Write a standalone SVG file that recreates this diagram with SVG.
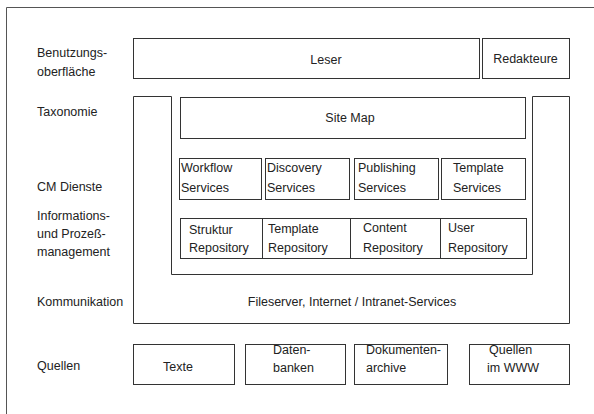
<svg xmlns="http://www.w3.org/2000/svg" width="594" height="414" viewBox="0 0 594 414">
<style>
.b{fill:#fff;stroke:#333;stroke-width:1}
.f{fill:none;stroke:#555;stroke-width:1}
text{font-family:"Liberation Sans",Arial,sans-serif;font-size:12.5px;fill:#222}
.c{text-anchor:middle}
</style>
<rect width="594" height="414" fill="#fff"/>
<path class="f" d="M6.5,414 V7.5 H594"/>
<g id="labels">
<text x="37" y="57">Benutzungs-</text>
<text x="37" y="76">oberfläche</text>
<text x="37" y="116">Taxonomie</text>
<text x="37" y="191">CM Dienste</text>
<text x="37" y="220">Informations-</text>
<text x="37" y="238">und Prozeß-</text>
<text x="37" y="256">management</text>
<text x="37" y="306">Kommunikation</text>
<text x="37" y="370">Quellen</text>
</g>
<g id="kommunikation">
<path class="b" d="M133.5,96.5 V323.5 H569.5 V96.5 H532.5 V274.5 H171.5 V96.5 Z"/>
<text x="352" y="306" class="c">Fileserver, Internet / Intranet-Services</text>
</g>
<g id="leser">
<rect class="b" x="133.5" y="38.5" width="346" height="40"/>
<text x="326" y="64" class="c">Leser</text>
</g>
<g id="redakteure">
<rect class="b" x="482.5" y="38.5" width="87" height="40"/>
<text x="525.5" y="63" class="c">Redakteure</text>
</g>
<g id="sitemap">
<rect class="b" x="180.5" y="97.5" width="345" height="41"/>
<text x="350" y="122" class="c">Site Map</text>
</g>
<g id="workflow">
<rect class="b" x="179.5" y="158.5" width="82" height="41"/>
<text x="181" y="172">Workflow</text>
<text x="181" y="192">Services</text>
</g>
<g id="discovery">
<rect class="b" x="265.5" y="158.5" width="84" height="41"/>
<text x="267" y="172">Discovery</text>
<text x="267" y="192">Services</text>
</g>
<g id="publishing">
<rect class="b" x="354.5" y="158.5" width="84" height="41"/>
<text x="358" y="172">Publishing</text>
<text x="358" y="192">Services</text>
</g>
<g id="templateservices">
<rect class="b" x="441.5" y="158.5" width="84" height="41"/>
<text x="453" y="172">Template</text>
<text x="453" y="192">Services</text>
</g>
<g id="repositories">
<rect class="b" x="180.5" y="218.5" width="346" height="40"/>
<path class="b" d="M262.5,218.5 V258.5 M350.5,218.5 V258.5 M440.5,218.5 V258.5"/>
</g>
<g id="struktur">
<text x="189" y="234">Struktur</text>
<text x="189" y="252">Repository</text>
</g>
<g id="templaterepo">
<text x="268" y="233">Template</text>
<text x="268" y="252">Repository</text>
</g>
<g id="content">
<text x="363" y="232">Content</text>
<text x="363" y="252">Repository</text>
</g>
<g id="user">
<text x="448" y="232">User</text>
<text x="448" y="252">Repository</text>
</g>
<g id="texte">
<rect class="b" x="133.5" y="344.5" width="101" height="40"/>
<text x="178" y="371" class="c">Texte</text>
</g>
<g id="datenbanken">
<rect class="b" x="245.5" y="344.5" width="100" height="40"/>
<text x="273" y="354">Daten-</text>
<text x="273" y="372">banken</text>
</g>
<g id="dokumentenarchive">
<rect class="b" x="354.5" y="344.5" width="93" height="40"/>
<text x="366" y="354">Dokumenten-</text>
<text x="366" y="372">archive</text>
</g>
<g id="quellenwww">
<rect class="b" x="469.5" y="344.5" width="100" height="40"/>
<text x="489" y="354">Quellen</text>
<text x="487" y="372">im WWW</text>
</g>
<g id="connectors"></g>
</svg>
